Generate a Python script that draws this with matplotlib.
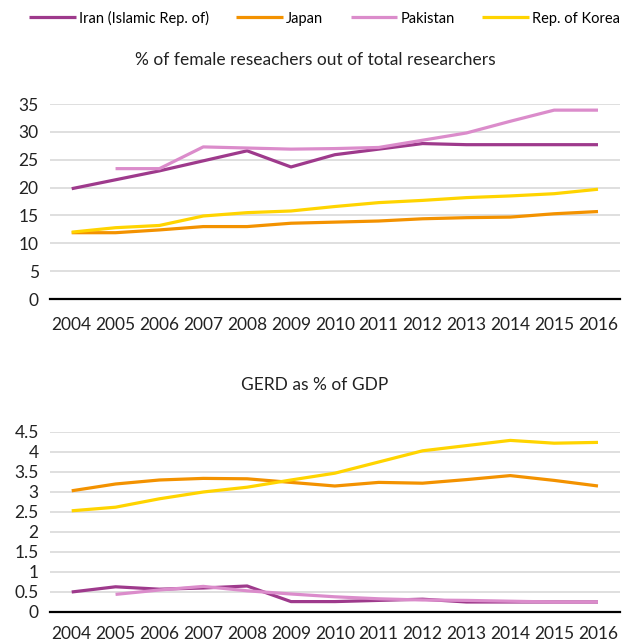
import numpy as np
import matplotlib.pyplot as plt

years = ['2004', '2005', '2006', '2007', '2008', '2009', '2010',
         '2011', '2012', '2013', '2014', '2015', '2016']

# % of female researchers
fem_iran = [19.8, 21.4, 23.0, 24.8, 26.6, 23.7, 25.9, 26.9, 27.9, 27.7, 27.7, 27.7, 27.7]
fem_japan = [11.9, 11.9, 12.4, 13.0, 13.0, 13.6, 13.8, 14.0, 14.4, 14.6, 14.7, 15.3, 15.7]
fem_pakistan = [np.nan, 23.4, 23.4, 27.3, 27.1, 26.9, 27.0, 27.2, 28.5, 29.8, 31.9, 33.9, 33.9]
fem_korea = [12.0, 12.8, 13.2, 14.9, 15.5, 15.8, 16.6, 17.3, 17.7, 18.2, 18.5, 18.9, 19.7]

# GERD as % of GDP
gerd_iran = [0.50, 0.63, 0.57, 0.60, 0.65, 0.26, 0.26, 0.29, 0.32, 0.25, 0.25, 0.25, 0.25]
gerd_japan = [3.03, 3.20, 3.30, 3.34, 3.33, 3.24, 3.15, 3.24, 3.22, 3.31, 3.41, 3.29, 3.15]
gerd_pakistan = [np.nan, 0.44, 0.55, 0.64, 0.53, 0.45, 0.38, 0.33, 0.30, 0.29, 0.27, 0.25, 0.25]
gerd_korea = [2.53, 2.62, 2.83, 3.00, 3.12, 3.30, 3.47, 3.75, 4.03, 4.16, 4.29, 4.22, 4.24]

countries = ['Iran (Islamic Rep. of)', 'Japan', 'Pakistan', 'Rep. of Korea']
colors = ['#9E3A8C', '#F39200', '#DB8CCB', '#FFD400']

plt.rcParams['font.family'] = ['Lato', 'DejaVu Sans']

fig = plt.figure(figsize=(6.3, 6.44), dpi=100)
ax1 = fig.add_axes([0.079, 0.5357, 0.905, 0.3028])
ax2 = fig.add_axes([0.079, 0.0497, 0.905, 0.2795])

x = np.arange(len(years))

def style(ax, ymax, step, fmt, xpad):
    ax.set_xlim(-0.5, len(years) - 0.5)
    ax.set_ylim(0, ymax)
    ticks = np.arange(0, ymax + step / 2, step)
    ax.set_yticks(ticks)
    ax.set_yticklabels([fmt(t) for t in ticks])
    ax.set_xticks(x)
    ax.set_xticklabels(years)
    ax.tick_params(length=0, labelsize=12.5, colors='#222222')
    ax.tick_params(axis='x', pad=xpad)
    ax.tick_params(axis='y', pad=8)
    ax.grid(axis='y', color='#D9D9D9', lw=1.2)
    ax.set_axisbelow(True)
    for s in ['top', 'right', 'left']:
        ax.spines[s].set_visible(False)
    ax.spines['bottom'].set_color('black')
    ax.spines['bottom'].set_linewidth(1.6)
    ax.spines['bottom'].set_zorder(5)

lines = []
for ys, c in zip([fem_iran, fem_japan, fem_pakistan, fem_korea], colors):
    l, = ax1.plot(x, ys, color=c, lw=2.3, solid_capstyle='butt')
    lines.append(l)
for ys, c in zip([gerd_iran, gerd_japan, gerd_pakistan, gerd_korea], colors):
    ax2.plot(x, ys, color=c, lw=2.3, solid_capstyle='butt')

style(ax1, 35, 5, lambda t: '%d' % t, 13)
style(ax2, 4.5, 0.5, lambda t: ('%g' % t), 10)

fig.text(0.5, 0.907, '% of female reseachers out of total researchers',
         ha='center', va='center', fontsize=12.5, color='#222222')
fig.text(0.5, 0.402, 'GERD as % of GDP',
         ha='center', va='center', fontsize=12.5, color='#222222')

fig.legend(lines, countries, loc='center', bbox_to_anchor=(0.515, 0.972), ncol=4,
           frameon=False, fontsize=10.5, handlelength=3.2, handletextpad=0.2,
           columnspacing=1.9, borderaxespad=0)

fig.savefig('out.png', dpi=100)
